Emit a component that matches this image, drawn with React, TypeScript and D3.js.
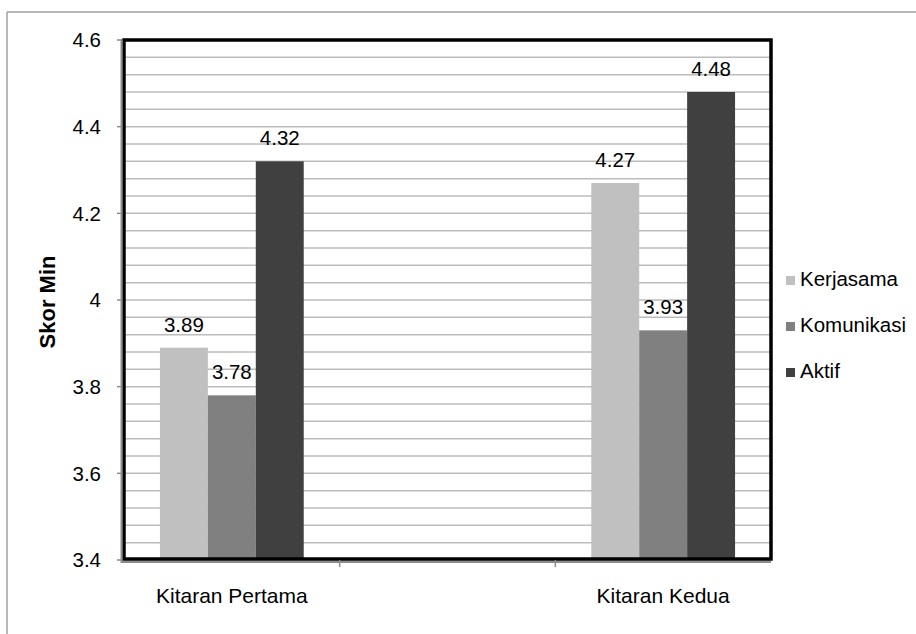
import React from "react";
import * as d3 from "d3";

const categories = ["Kitaran Pertama", "", "Kitaran Kedua"];
const seriesNames = ["Kerjasama", "Komunikasi", "Aktif"];
const kerjasama = [3.89, null, 4.27];
const komunikasi = [3.78, null, 3.93];
const aktif = [4.32, null, 4.48];
const seriesColors = ["#c0c0c0", "#808080", "#404040"];
const yTicks = [3.4, 3.6, 3.8, 4.0, 4.2, 4.4, 4.6];
const yTickLabels = ["3.4", "3.6", "3.8", "4", "4.2", "4.4", "4.6"];
const yAxisTitle = "Skor Min";

const W = 916;
const H = 634;
const FONT = "'Liberation Sans', Arial, sans-serif";

export default function App() {
  const x0 = 124, x1 = 771, y0 = 40, y1 = 560;
  const y = d3.scaleLinear().domain([3.4, 4.6]).range([y1, y0]);
  const x = d3.scaleBand().domain(categories.map((c, i) => String(i))).range([x0, x1]).paddingInner(0).paddingOuter(0);
  const xs = d3.scaleBand().domain(seriesNames).range([0, x.bandwidth()]).paddingInner(0).paddingOuter(0.75);
  const series = [kerjasama, komunikasi, aktif];
  const gridVals = d3.range(0, 31).map((i) => 3.4 + i * 0.04);

  return (
    <svg width={W} height={H} style={{ position: "absolute", left: 0, top: 0 }} fontFamily={FONT}>
      <rect x={0} y={0} width={W} height={H} fill="#fff" />
      {/* outer frame */}
      <line x1={7} x2={W} y1={12} y2={12} stroke="#a0a0a0" strokeWidth={1.5} />
      <line x1={7} x2={7} y1={12} y2={H} stroke="#a0a0a0" strokeWidth={1.5} />
      {/* gridlines */}
      {gridVals.map((v, i) => (
        <line key={"g" + i} x1={x0} x2={x1} y1={y(v)} y2={y(v)} stroke="#bcbcbc" strokeWidth={1.5} />
      ))}
      {/* bars */}
      {series.map((s, si) =>
        s.map((v, ci) =>
          v == null ? null : (
            <rect
              key={"b" + si + "-" + ci}
              x={(x(String(ci)) as number) + (xs(seriesNames[si]) as number)}
              y={y(v)}
              width={xs.bandwidth()}
              height={y1 - y(v)}
              fill={seriesColors[si]}
            />
          )
        )
      )}
      {/* plot border */}
      <rect x={x0} y={y0} width={x1 - x0} height={y1 - 1 - y0} fill="none" stroke="#000" strokeWidth={3.5} />
      {/* axis lines */}
      <line x1={121.5} x2={121.5} y1={y0 - 1} y2={y1 + 3} stroke="#8c8c8c" strokeWidth={2} />
      <line x1={121} x2={x1} y1={562} y2={562} stroke="#8c8c8c" strokeWidth={2} />
      {/* y ticks */}
      {yTicks.map((v, i) => (
        <g key={"yt" + i}>
          <line x1={117} x2={122} y1={y(v)} y2={y(v)} stroke="#8c8c8c" strokeWidth={1.5} />
          <text x={101} y={y(v)} dy="0.36em" textAnchor="end" fontSize={20.5} fill="#000">
            {yTickLabels[i]}
          </text>
        </g>
      ))}
      {/* x ticks */}
      {categories.map((c, i) =>
        i === 0 ? null : (
          <line key={"xt" + i} x1={x(String(i)) as number} x2={x(String(i)) as number} y1={560} y2={567} stroke="#8c8c8c" strokeWidth={1.5} />
        )
      )}
      {/* category labels */}
      {categories.map((c, i) => (
        <text key={"c" + i} x={(x(String(i)) as number) + x.bandwidth() / 2} y={603} textAnchor="middle" fontSize={21} fill="#000">
          {c}
        </text>
      ))}
      {/* data labels */}
      {series.map((s, si) =>
        s.map((v, ci) =>
          v == null ? null : (
            <text
              key={"l" + si + "-" + ci}
              x={(x(String(ci)) as number) + (xs(seriesNames[si]) as number) + xs.bandwidth() / 2}
              y={y(v) - 16}
              textAnchor="middle"
              fontSize={20.5}
              fill="#000"
            >
              {String(v)}
            </text>
          )
        )
      )}
      {/* axis title */}
      <text transform={`translate(47,302) rotate(-90)`} dy="0.36em" textAnchor="middle" fontSize={22} fontWeight="bold" fill="#000">
        {yAxisTitle}
      </text>
      {/* legend */}
      {seriesNames.map((n, i) => (
        <g key={"lg" + i}>
          <rect x={786} y={276 + i * 46} width={9} height={9} fill={seriesColors[i]} />
          <text x={800} y={286 + i * 46} fontSize={20.5} fill="#000">
            {n}
          </text>
        </g>
      ))}
    </svg>
  );
}
